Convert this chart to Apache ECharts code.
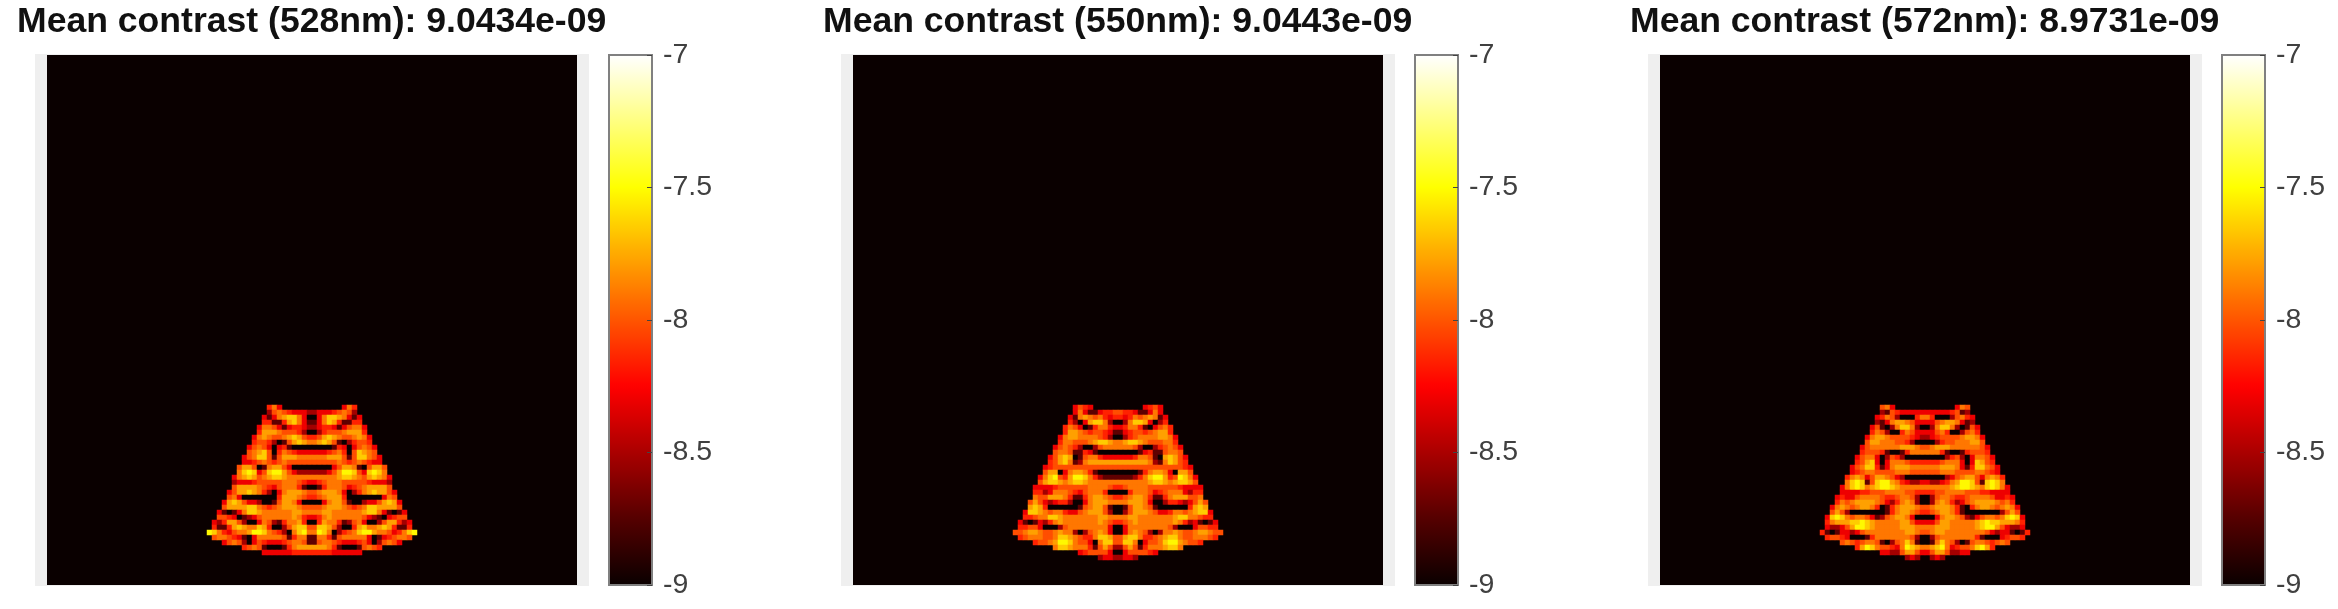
<!DOCTYPE html>
<html>
<head>
<meta charset="utf-8">
<style>html,body{margin:0;padding:0;background:#fff}#c{width:2338px;height:609px}</style>
<script src="https://cdn.jsdelivr.net/npm/echarts@6/dist/echarts.min.js"></script>
</head>
<body>
<div id="c"></div>
<script>
var titles = ["Mean contrast (528nm): 9.0434e-09", "Mean contrast (550nm): 9.0443e-09", "Mean contrast (572nm): 8.9731e-09"];
// log10 contrast for each digit used in the rows below
var levelValues = [-9, -8.72, -8.52, -8.3, -8.15, -8.02, -7.9, -7.78, -7.65, -7.52];
var firstRow = 70, firstCol = 32, gridCells = 106;
// Left half of each image row (images are mirror-symmetric). "." = floor value.
var rows528 = [
"............463......",
"............256543332",
"...........3136788630",
"...........4411478631",
"..........36653134432",
"..........47776555420",
".........367655678754",
".........455420157876",
"........3565303410000",
"........5678504654333",
".......35688515777666",
".......33456545655555",
"......577501677530000",
"......689835899753222",
".....3678756788766666",
".....2333455555666543",
".....5777765435666410",
"....35778764203677765",
"....56300000004777654",
"...378753320015776300",
"...577778865456777655",
"..3101368876666667766",
"..5543012356666667643",
".32477520036521466740",
".41147876687400257885",
"986435667998654206896",
".56654310366666514661",
"...356520354333456651",
".......45651000146777",
"...........3333334444"
];
var rows550 = [
"............3543.....",
"............363113445",
"...........3167656434",
"...........4203788620",
"..........46530146643",
"..........47765455431",
".........367766665420",
".........466555678876",
"........3565420025666",
"........5665114310000",
".......35787015664333",
".......45786126777777",
"......345555555555555",
"......577036776410000",
".....3689547998642111",
".....5788767887666666",
"....33334555555666654",
"....44236665435666400",
"....65577764114677654",
"...575323442003677766",
"...787400000015677510",
"..3887656643356777520",
"..4456688766666667766",
".31013246766666667654",
".44553000256666666630",
"556776556766202567630",
".45666556887654468875",
"....45567998655306885",
"........6887666415752",
".............34555530",
".................2332"
];
var rows572 = [
"............563......",
"............215433333",
"...........3465200046",
"...........2136776533",
"..........35102688620",
"..........46520046533",
".........367765555432",
".........577666554200",
"........3566666677765",
"........4555410014666",
".......35663025420000",
".......45783036665444",
"......356884136777666",
"......345665555666555",
".....4676357765320000",
".....6898158997643223",
"....36898678998766666",
"....33334455566665544",
"...343356666544566520",
"...465677776532467620",
"..3676567764014677765",
"..5752000000014677654",
".38986566531256776300",
".46777889876666677533",
".32235799876666677766",
"410133235666666667765",
".45543000146666666520",
"....56545665102568610",
".......47986554369876",
"............332257753",
".................232."
];
var colorbarMin = -9, colorbarMax = -7, colorbarStep = 0.5;
var hotStops = ["#0a0000", "#550000", "#aa0000", "#ff0000", "#ff5500", "#ffaa00", "#ffff00", "#ffff80", "#ffffff"];

var panelLefts = [47, 853, 1660];
var panelRows = [rows528, rows550, rows572];
var font = '"Liberation Sans", Arial, sans-serif';
var axisCats = [];
for (var i = 0; i < gridCells; i++) axisCats.push(String(i));

function cellsFrom(rows) {
  var out = [];
  rows.forEach(function (half, k) {
    var full = half + half.split("").reverse().join("");
    full.split("").forEach(function (ch, j) {
      if (ch !== ".") out.push([firstCol + j, firstRow + k, levelValues[+ch]]);
    });
  });
  return out;
}

var option = {animation: false, backgroundColor: "#fff", title: [], grid: [], xAxis: [], yAxis: [], visualMap: [], series: []};
panelLefts.forEach(function (left, p) {
  option.title.push({text: titles[p], left: left - 30, top: 4, padding: 0,
    textStyle: {fontFamily: font, fontWeight: "bold", fontSize: 35.6, color: "#111"}});
  // pale band behind the image
  var g0 = option.grid.length;
  option.grid.push({left: left - 12, top: 54, width: 554, height: 532, show: true, backgroundColor: "#efefef", borderWidth: 0});
  option.xAxis.push({gridIndex: g0, show: false, type: "value", min: 0, max: 1});
  option.yAxis.push({gridIndex: g0, show: false, type: "value", min: 0, max: 1});
  // image
  var g1 = option.grid.length;
  option.grid.push({left: left, top: 55, width: 530, height: 530, show: true, backgroundColor: "#0a0000", borderWidth: 0, z: 3});
  option.xAxis.push({gridIndex: g1, show: false, type: "category", data: axisCats});
  option.yAxis.push({gridIndex: g1, show: false, type: "category", data: axisCats, inverse: true});
  var s = option.series.length;
  option.series.push({type: "heatmap", xAxisIndex: g1, yAxisIndex: g1, data: cellsFrom(panelRows[p]), silent: true, progressive: 0, z: 3});
  // colour bar
  option.visualMap.push({type: "continuous", seriesIndex: s, min: colorbarMin, max: colorbarMax, show: true,
    calculable: false, hoverLink: false, realtime: false, left: left + 562, top: 55, itemWidth: 43, itemHeight: 530,
    padding: 0, text: null, inRange: {color: hotStops}, textStyle: {color: "transparent"}, z: 4});
  // colour bar frame, ticks and labels
  var g2 = option.grid.length;
  option.grid.push({left: left + 562, top: 55, width: 43, height: 530, show: true, backgroundColor: "transparent", borderColor: "#808080", borderWidth: 2, z: 6});
  option.xAxis.push({gridIndex: g2, show: false, type: "value", min: 0, max: 1});
  option.yAxis.push({gridIndex: g2, type: "value", position: "right", min: colorbarMin, max: colorbarMax, interval: colorbarStep, z: 7,
    axisLine: {show: false, onZero: false}, splitLine: {show: false},
    axisTick: {show: true, inside: true, length: 5, lineStyle: {color: "#444", width: 1}},
    axisLabel: {show: true, margin: 11, fontFamily: font, fontSize: 28.5, color: "#404040", formatter: function (v) { return String(v); }}});
});
echarts.init(document.getElementById("c"), null, {renderer: "canvas"}).setOption(option);
</script>
</body>
</html>
